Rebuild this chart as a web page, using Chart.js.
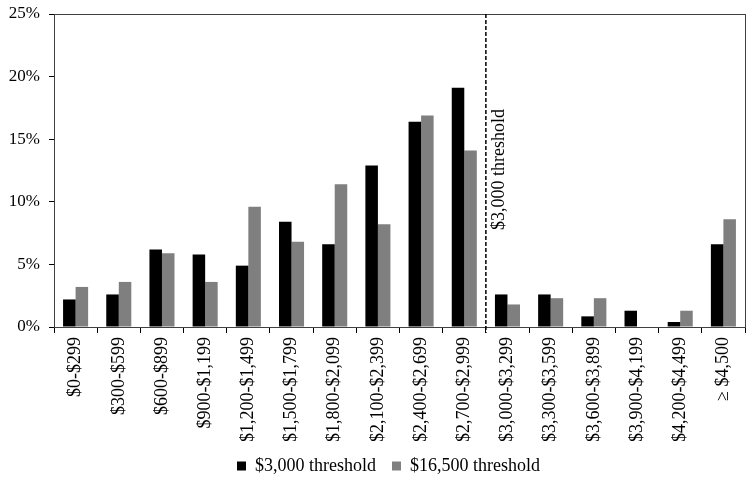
<!DOCTYPE html>
<html><head><meta charset="utf-8">
<script src="https://cdn.jsdelivr.net/npm/chart.js@4/dist/chart.umd.min.js"></script>
<style>html,body{margin:0;padding:0;background:#fff}#w{width:754px;height:485px}</style>
</head><body><div id="w"><canvas id="c" width="754" height="485"></canvas></div>
<script>
const categories = ["$0-$299","$300-$599","$600-$899","$900-$1,199","$1,200-$1,499","$1,500-$1,799","$1,800-$2,099","$2,100-$2,399","$2,400-$2,699","$2,700-$2,999","$3,000-$3,299","$3,300-$3,599","$3,600-$3,899","$3,900-$4,199","$4,200-$4,499","\u2265 $4,500"];
const threshold3000 = [2.2,2.6,6.2,5.8,4.9,8.4,6.6,12.9,16.4,19.1,2.6,2.6,0.85,1.3,0.4,6.6];
const threshold16500 = [3.2,3.6,5.9,3.6,9.6,6.8,11.4,8.2,16.9,14.1,1.8,2.3,2.3,0,1.3,8.6];
const seriesNames = ["$3,000 threshold","$16,500 threshold"];
const yTicks = [0,5,10,15,20,25];
const thresholdLabel = "$3,000 threshold";
const thresholdAfterIndex = 9;

const FONT = "'Liberation Serif','Times New Roman',serif";
Chart.defaults.font.family = FONT;
Chart.defaults.font.size = 18;
Chart.defaults.color = '#000';

const thresholdPlugin = {
  id:'thr',
  afterLayout(chart){
    if (chart.legend){ chart.legend.left += 16; chart.legend.right += 16; }
  },
  afterDatasetsDraw(chart){
    const {ctx, chartArea:a, scales:{x}} = chart;
    const xp = (x.getPixelForValue(thresholdAfterIndex)+x.getPixelForValue(thresholdAfterIndex+1))/2;
    ctx.save();
    ctx.strokeStyle='#404040'; ctx.lineWidth=1;
    ctx.strokeRect(a.left+0.5, a.top+0.5, a.right-a.left, a.bottom-a.top);
    ctx.beginPath(); ctx.setLineDash([4,2]); ctx.strokeStyle='#000'; ctx.lineWidth=1.5;
    ctx.moveTo(xp, a.top); ctx.lineTo(xp, a.bottom+6); ctx.stroke();
    ctx.setLineDash([]);
    ctx.translate(xp+13, 230); ctx.rotate(-Math.PI/2);
    ctx.font = "18px "+FONT; ctx.fillStyle='#000'; ctx.textAlign='left'; ctx.textBaseline='middle';
    ctx.fillText(thresholdLabel, 0, 0);
    ctx.restore();
  }
};

new Chart(document.getElementById('c'), {
  type:'bar',
  data:{labels:categories, datasets:[
    {label:seriesNames[0], data:threshold3000, backgroundColor:'#000', categoryPercentage:0.58, barPercentage:1},
    {label:seriesNames[1], data:threshold16500, backgroundColor:'#7f7f7f', categoryPercentage:0.58, barPercentage:1}
  ]},
  options:{
    responsive:false, animation:false,
    layout:{padding:{top:14,right:9,left:0,bottom:0}},
    plugins:{
      tooltip:{enabled:false},
      legend:{position:'bottom', labels:{boxWidth:9, boxHeight:9, padding:16, font:{size:18}, color:'#000'}}
    },
    scales:{
      x:{
        offset:true,
        grid:{offset:true, drawOnChartArea:false, tickLength:6, color:'#000'},
        border:{color:'#000'},
        ticks:{maxRotation:90, minRotation:90, padding:4, font:{size:18}, color:'#000', autoSkip:false},
        afterFit(s){ s.height = 114; s.paddingLeft = 0; s.paddingRight = 0; }
      },
      y:{
        min:0, max:25,
        afterBuildTicks(s){ s.ticks = yTicks.map(v=>({value:v})); },
        grid:{drawOnChartArea:false, tickLength:5, color:'#000'},
        border:{color:'#000'},
        ticks:{padding:9, callback:v=>v+'%', font:{size:17}, color:'#000'},
        afterFit(s){ s.width = 54; s.paddingTop = 0; s.paddingBottom = 0; }
      }
    }
  },
  plugins:[thresholdPlugin]
});
</script></body></html>
